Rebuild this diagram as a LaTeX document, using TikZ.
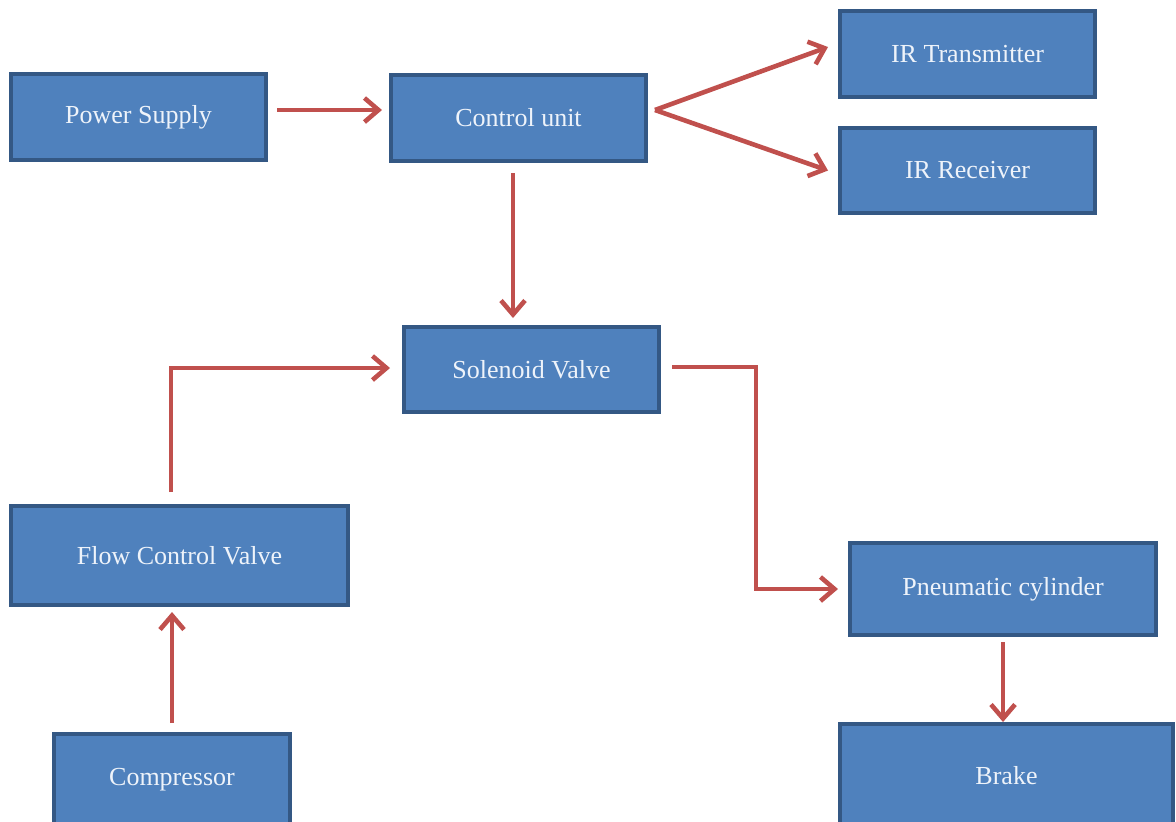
\documentclass[tikz,border=0pt]{standalone}
\usepackage{fontspec}
\setmainfont{Liberation Serif}
\usetikzlibrary{arrows.meta}
\definecolor{boxblue}{RGB}{79,129,189}
\definecolor{boxedge}{RGB}{52,88,132}
\definecolor{linkred}{RGB}{192,80,77}
\definecolor{textwhite}{RGB}{238,243,250}
\begin{document}
\begin{tikzpicture}[x=0.5pt,y=-0.5pt,
      block/.style={draw=boxedge,fill=boxblue,line width=2pt,text=textwhite,
        font=\fontsize{13}{15}\selectfont,inner sep=0pt},
      link/.style={draw=linkred,line width=2.3pt,
        -{Straight Barb[length=7pt,width=12pt]}}]
          \useasboundingbox (0,0) rectangle (1176,821);

          \node[block,minimum width=127.5pt,minimum height=43pt] (power) at (138.5,117) {Power Supply};
          \node[block,minimum width=127.5pt,minimum height=43pt] (control) at (518.5,118) {Control unit};
          \node[block,minimum width=127.5pt,minimum height=43pt] (irtx) at (967.5,54) {IR Transmitter};
          \node[block,minimum width=127.5pt,minimum height=42.5pt] (irrx) at (967.5,170.5) {IR Receiver};
          \node[block,minimum width=127.5pt,minimum height=42.5pt] (solenoid) at (531.5,369.5) {Solenoid Valve};
          \node[block,minimum width=168.5pt,minimum height=49.5pt] (flow) at (179.5,555.5) {Flow Control Valve};
          \node[block,minimum width=118pt,minimum height=45.5pt] (compressor) at (172,779.5) {Compressor};
          \node[block,minimum width=153pt,minimum height=46pt] (pneumatic) at (1003,589) {Pneumatic cylinder};
          \node[block,minimum width=166.5pt,minimum height=52pt] (brake) at (1006.5,776) {Brake};

          \coordinate (fork) at ([xshift=3.5pt,yshift=4pt]control.east);

          \draw[link] ([xshift=4.5pt,yshift=3.5pt]power.east) -- ([xshift=-3.5pt,yshift=3.5pt]power.east -| control.west);
          \draw[link] (fork) -- ([xshift=-5pt,yshift=3.5pt]irtx.west);
          \draw[link] (fork) -- ([xshift=-5pt]irrx.west);

          \draw[link] ([xshift=-2.75pt,yshift=-5pt]control.south) -- ([xshift=-2.75pt,yshift=3.5pt]control.south |- solenoid.north);

          \draw[link] ([xshift=-4.25pt,yshift=6pt]flow.north) |- ([xshift=-6pt,yshift=0.75pt]solenoid.west);
          \draw[link] ([xshift=5.5pt,yshift=1.25pt]solenoid.east) -- ++(84,0) |- ([xshift=-5pt]pneumatic.west);

          \draw[link] ([yshift=4.5pt]compressor.north) -- ([yshift=-2.5pt]compressor.north |- flow.south);
          \draw[link] ([yshift=-2.5pt]pneumatic.south) -- (pneumatic.south |- brake.north);

      \end{tikzpicture}
\end{document}
